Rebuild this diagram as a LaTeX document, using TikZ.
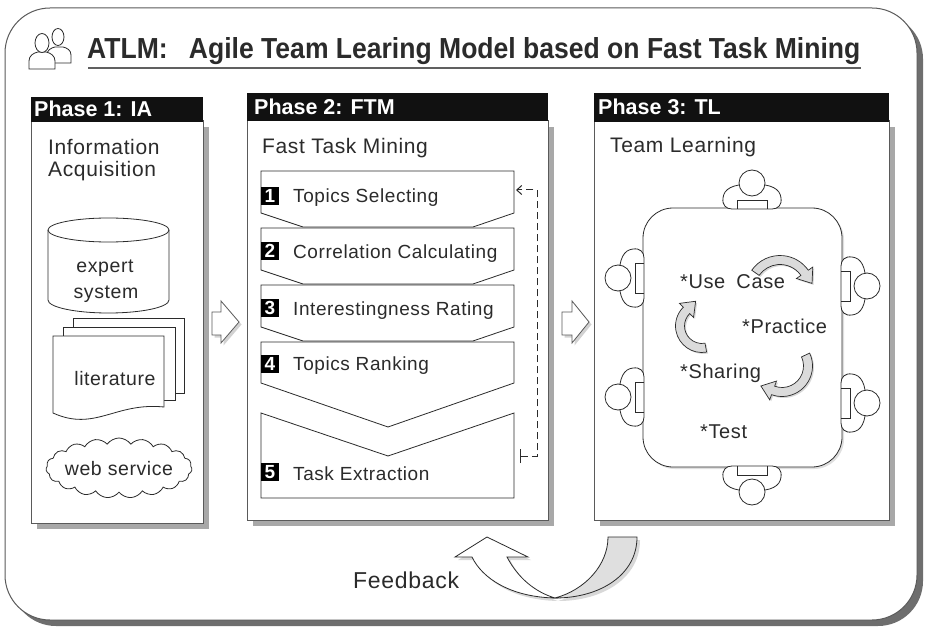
\documentclass[tikz,border=0pt]{standalone}
\usepackage{fontspec}
\usepackage{graphicx}
\setmainfont{Liberation Sans}
\newfontfamily\lblfont[LetterSpace=3]{Liberation Sans}
\usetikzlibrary{calc,shapes.symbols,shadows,arrows.meta}

\definecolor{ink}{HTML}{2B2B2B}
\definecolor{frameline}{HTML}{5A5A5A}
\definecolor{boxshadow}{HTML}{A8A8A8}
\definecolor{outershadow}{HTML}{6E6E6E}
\definecolor{headbar}{HTML}{111111}

\tikzset{
  outline/.style={draw=ink, line width=0.8pt},
  phasebody/.style={draw=frameline, fill=white, line width=1pt},
  phasetitle/.style={anchor=base west, inner sep=0, text=white,
    font=\bfseries\fontsize{21.5}{24}\selectfont},
  heading/.style={anchor=base west, inner sep=0, text=ink,
    font=\lblfont\fontsize{21}{24}\selectfont},
  steplabel/.style={anchor=base west, inner sep=0, text=ink,
    font=\lblfont\fontsize{19}{22}\selectfont},
  srclabel/.style={anchor=base, inner sep=0, text=ink,
    font=\lblfont\fontsize{19.5}{22}\selectfont},
  tabletext/.style={anchor=base west, inner sep=0, text=ink,
    font=\lblfont\fontsize{20}{22}\selectfont},
  badge/.style={fill=black, text=white, minimum size=18pt, inner sep=0,
    font=\bfseries\fontsize{19}{19}\selectfont},
  stepbox/.style={outline, fill=white},
  softshadow/.style={drop shadow={opacity=0.35, shadow xshift=2.5pt, shadow yshift=-2.5pt}},
  blockarrow/.style={draw=frameline, fill=white, line width=0.8pt, softshadow},
  turnarrow/.style={draw=ink, fill=gray!28, line width=0.7pt,
    drop shadow={opacity=0.3, shadow xshift=1.5pt, shadow yshift=-1.5pt}},
}

% curved band arrow: centre, radius, start angle, end angle
\newcommand\bendarrow[4]{%
  \filldraw[turnarrow]
    ($(#1)+({#3}:{#2+4.5})$) arc[start angle=#3, end angle=#4, radius=#2+4.5]
    -- ($(#1)+({#4}:{#2+10})$)
    -- ($(#1)+({#4}:{#2})+({#4+90}:13)$)
    -- ($(#1)+({#4}:{#2-10})$)
    -- ($(#1)+({#4}:{#2-4.5})$) arc[start angle=#4, end angle=#3, radius=#2-4.5]
    -- cycle;}

% a seated person seen from above, hands on the table edge at the origin
\newcommand\seated[3]{%
  \begin{scope}[shift={(#1,#2)}, rotate=#3]
    \filldraw[outline, fill=white] (-20,1) .. controls (-26,1) and (-30,-3) .. (-29,-10)
      .. controls (-28,-19) and (-20,-24) .. (0,-24)
      .. controls (20,-24) and (28,-19) .. (29,-10)
      .. controls (30,-3) and (26,1) .. (20,1) -- cycle;
    \draw[outline] (-15,1) -- (-15,-8) -- (15,-8) -- (15,1);
    \filldraw[outline, fill=white] (0,-25) circle[radius=13];
  \end{scope}}

\begin{document}
\begin{tikzpicture}[x=1pt, y=-1pt]
\useasboundingbox (0,0) rectangle (925,628);

% outer frame
\fill[outershadow, rounded corners=45pt] (11,14) rectangle (923,626);
\filldraw[draw=frameline, fill=white, line width=1pt, rounded corners=45pt] (5,8) rectangle (917,620);

% team icon
\filldraw[outline, fill=white] (47,63) -- (47,55) .. controls (47,50) and (51,48) .. (55,47)
  -- (63,47) .. controls (67,48) and (71,50) .. (71,55) -- (71,63) -- cycle;
\filldraw[outline, fill=white] (58,37) ellipse[x radius=6, y radius=8.5];
\filldraw[outline, fill=white] (29,69) -- (29,61) .. controls (29,56) and (33,53) .. (38,52)
  -- (46,52) .. controls (51,53) and (55,56) .. (55,61) -- (55,69) -- cycle;
\filldraw[outline, fill=white] (42,43) ellipse[x radius=7, y radius=9.5];

% title
\node[anchor=base west, inner sep=0, text=ink] (title) at (87,59)
  {\resizebox{773pt}{21pt}{\bfseries ATLM:\hspace{0.8em}Agile Team Learing Model based on Fast Task Mining}};
\draw[gray!75!black, line width=2.5pt] (88,68) -- (861,68);

% ---------- Phase 1 ----------
\fill[boxshadow] (37,127) rectangle (209,529);
\draw[phasebody] (31,121) rectangle (203,523);
\fill[headbar] (31,97) rectangle (203,122);
\node[phasetitle] (h1) at (34,117) {Phase 1: IA};
\node[heading] (ia1) at (48,155) {Information};
\node[heading] (ia2) at (48,177) {Acquisition};

% expert system (cylinder)
\filldraw[outline, fill=white] (48,230) -- (48,300)
  arc[start angle=180, end angle=0, x radius=60.5, y radius=13] -- (169,230);
\draw[outline] (108.5,230) ellipse[x radius=60.5, y radius=12];
\node[srclabel] (ex1) at (105,272) {expert};
\node[srclabel] (ex2) at (106,298) {system};

% literature (stacked pages)
\filldraw[outline, fill=white] (73,318) rectangle (184,393);
\filldraw[outline, fill=white] (63,327) rectangle (175,400);
\filldraw[outline, fill=white] (53,336) -- (164,336) -- (164,407)
  .. controls (115,402) and (95,432) .. (53,413) -- cycle;
\node[srclabel] (lit) at (115,385) {literature};

% web service (cloud)
\node[cloud, cloud puffs=19, cloud puff arc=110, aspect=2.4, draw=ink, fill=white,
  line width=0.8pt, minimum width=146pt, minimum height=60pt, inner sep=0] (web) at (119,468) {};
\node[srclabel] (webt) at (119,475) {web service};

% ---------- Phase 2 ----------
\fill[boxshadow] (253,127) rectangle (554,526);
\draw[phasebody] (247,121) rectangle (548,520);
\fill[headbar] (247,93) rectangle (548,121);
\node[phasetitle] (h2) at (254,115) {Phase 2: FTM};
\node[heading] (ftm) at (262,154) {Fast Task Mining};

\filldraw[stepbox] (261,171) -- (514,171) -- (514,213) -- (473,227) -- (303,227) -- (261,213) -- cycle;
\filldraw[stepbox] (261,228) -- (514,228) -- (514,270) -- (473,284) -- (303,284) -- (261,270) -- cycle;
\filldraw[stepbox] (261,285) -- (514,285) -- (514,327) -- (473,341) -- (303,341) -- (261,327) -- cycle;
\filldraw[stepbox] (261,342) -- (514,342) -- (514,383) -- (388,427) -- (261,383) -- cycle;
\filldraw[stepbox] (261,413) -- (388,456) -- (514,413) -- (514,498) -- (261,498) -- cycle;

\node[badge] (b1) at (270,196) {1};
\node[badge] (b2) at (270,251) {2};
\node[badge] (b3) at (270,308) {3};
\node[badge] (b4) at (270,364) {4};
\node[badge] (b5) at (270,472) {5};
\node[steplabel] (t1) at (293,203) {Topics Selecting};
\node[steplabel] (t2) at (293,258) {Correlation Calculating};
\node[steplabel] (t3) at (293,315) {Interestingness Rating};
\node[steplabel] (t4) at (293,370) {Topics Ranking};
\node[steplabel] (t5) at (293,480) {Task Extraction};

% loop back from task extraction to topic selection
\coordinate (s5out) at (520,456);
\coordinate (s1in) at (516,190);
\draw[ink, line width=1pt, dash pattern=on 7pt off 4pt,
  {Bar[width=14pt]}-{Straight Barb[length=5pt, width=9pt]}]
  (s5out) -- (537,456) -- (537,190) -- (s1in);

% ---------- Phase 3 ----------
\fill[boxshadow] (600,127) rectangle (895,526);
\draw[phasebody] (594,121) rectangle (889,520);
\fill[headbar] (594,93) rectangle (889,122);
\node[phasetitle] (h3) at (598,115) {Phase 3: TL};
\node[heading] (tl) at (610,153) {Team Learning};

\node[draw=ink, fill=white, line width=0.8pt, rounded corners=30pt, minimum width=199pt,
  minimum height=259pt, drop shadow={opacity=0.25, shadow xshift=2pt, shadow yshift=-2pt}]
  (table) at (742.5,337.5) {};

\seated{752}{208}{0}
\seated{752}{467}{180}
\seated{643}{278}{90}
\seated{643}{397}{90}
\seated{842}{286}{-90}
\seated{842}{403}{-90}

\node[tabletext] (uc) at (680,288) {*Use\hspace{5pt} Case};
\node[tabletext] (pr) at (742,333) {*Practice};
\node[tabletext] (sh) at (680,378) {*Sharing};
\node[tabletext] (te) at (700,438) {*Test};

\bendarrow{780,290}{30}{215}{325}
\bendarrow{782,366}{26}{-25}{110}
\bendarrow{702,326}{22}{80}{225}

% ---------- arrows between phases ----------
\filldraw[blockarrow] (212,312) -- (221,312) -- (221,301) -- (239,322) -- (221,343) -- (221,335) -- (212,335) -- cycle;
\filldraw[blockarrow] (562,312) -- (572,312) -- (572,301) -- (589,322) -- (572,343) -- (572,335) -- (562,335) -- cycle;

% ---------- feedback ----------
\fill[gray!60, opacity=0.5] (558,601) .. controls (603,601) and (640,578) .. (640,540)
  -- (611,540) .. controls (611,568) and (588,593) .. (558,601)
  .. controls (513,600) and (485,581) .. (475,560) -- (458,560) -- (490,540) -- (531,560) -- (510,560)
  .. controls (521,581) and (538,595) .. (558,601) -- cycle;
\filldraw[draw=ink, fill=gray!25, line width=0.8pt] (555,598) .. controls (600,598) and (637,575) .. (637,537)
  -- (608,537) .. controls (608,565) and (585,590) .. (555,598) -- cycle;
\filldraw[draw=ink, fill=white, line width=0.8pt] (555,598) .. controls (510,597) and (482,578) .. (472,557)
  -- (455,557) -- (487,537) -- (528,557) -- (507,557)
  .. controls (518,578) and (535,592) .. (555,598) -- cycle;
\node[anchor=base west, inner sep=0, text=ink, font=\lblfont\fontsize{23}{26}\selectfont] (fb) at (353,588) {Feedback};

\end{tikzpicture}
\end{document}
